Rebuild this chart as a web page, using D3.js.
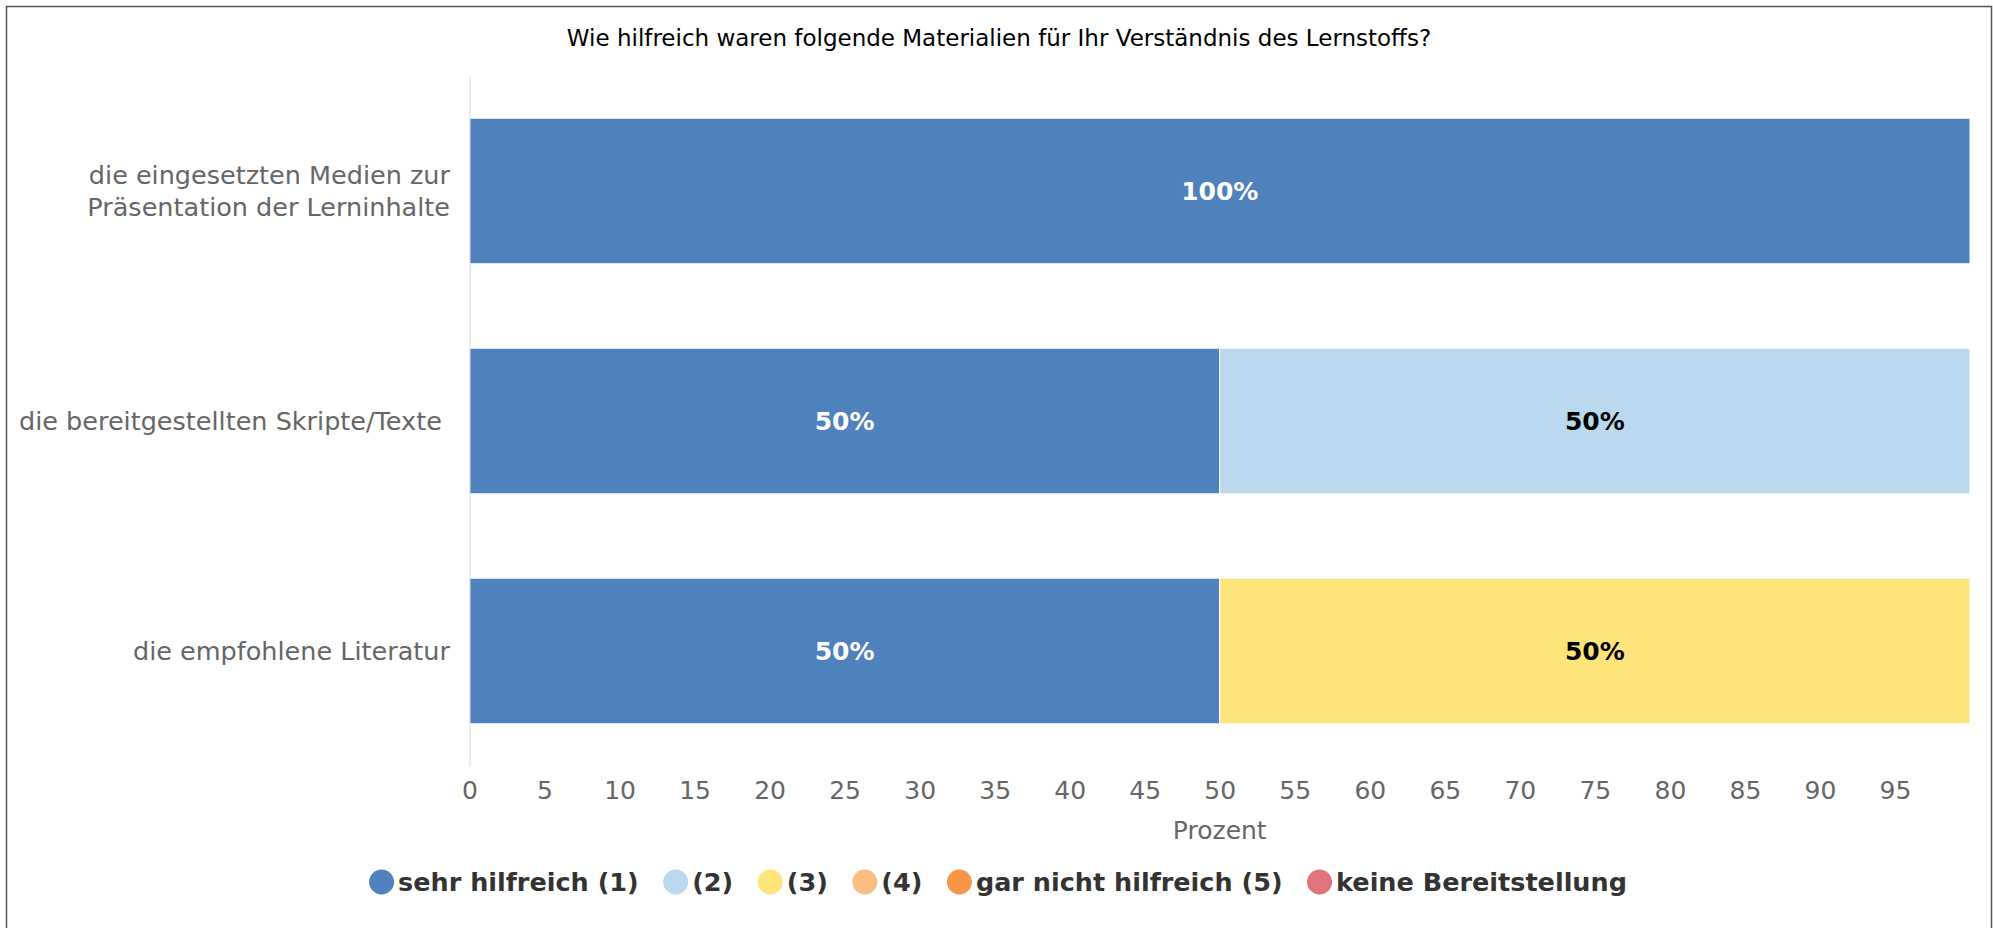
<!DOCTYPE html>
<html>
<head>
<meta charset="utf-8">
<script src="https://cdn.jsdelivr.net/npm/d3@7"></script>
<style>
  body { margin: 0; background: #fff; }
  text { font-family: "DejaVu Sans", sans-serif; }
</style>
</head>
<body>
<div id="chart"></div>
<script>
// chart data
var title = "Wie hilfreich waren folgende Materialien für Ihr Verständnis des Lernstoffs?";
var categories = ["die eingesetzten Medien zur\nPräsentation der Lerninhalte", "die bereitgestellten Skripte/Texte ", "die empfohlene Literatur"];
var seriesNames = ["sehr hilfreich (1)", "(2)", "(3)", "(4)", "gar nicht hilfreich (5)", "keine Bereitstellung"];
var seriesColors = ["#4f81bc", "#bbd9ee", "#fee57b", "#fdbf80", "#f79646", "#e0737c"];
var labelColors = ["#fff", "#000", "#000", "#000", "#000", "#fff"];
var sehrHilfreich = [100, 50, 50];
var stufe2 = [0, 50, 0];
var stufe3 = [0, 0, 50];
var stufe4 = [0, 0, 0];
var garNicht = [0, 0, 0];
var keine = [0, 0, 0];
var xTicks = [0, 5, 10, 15, 20, 25, 30, 35, 40, 45, 50, 55, 60, 65, 70, 75, 80, 85, 90, 95];
var xTitle = "Prozent";

var width = 1993, height = 928;

var svg = d3.select('#chart')
  .append('svg')
  .attr('width', width)
  .attr('height', height);

// frame round the chart
svg.append('rect')
  .attr('x', 6.5).attr('y', 6.5)
  .attr('width', 1985).attr('height', 940)
  .attr('fill', '#fff')
  .attr('stroke', '#555')
  .attr('stroke-width', 1.5);

// build table rows for d3.stack
var allSeries = [sehrHilfreich, stufe2, stufe3, stufe4, garNicht, keine];
var rows = categories.map(function (c, i) {
  var r = { cat: c };
  seriesNames.forEach(function (s, j) { r[s] = allSeries[j][i]; });
  return r;
});
var stacked = d3.stack().keys(seriesNames)(rows);

var x = d3.scaleLinear().domain([0, 100]).range([469.5, 1970]);
var y = d3.scaleBand().domain(categories).range([76, 766])
  .paddingInner(0.367).paddingOuter(0.1835);

// title
svg.append('text')
  .attr('x', 999).attr('y', 38)
  .attr('text-anchor', 'middle')
  .attr('dominant-baseline', 'central')
  .style('font-size', '23px')
  .style('fill', '#000')
  .text(title);

// bars
var layer = svg.selectAll('g.layer')
  .data(stacked)
  .enter()
  .append('g')
  .attr('class', 'layer')
  .attr('fill', function (d, i) { return seriesColors[i]; });

layer.selectAll('rect')
  .data(function (d) { return d; })
  .enter()
  .append('rect')
  .filter(function (d) { return d[1] - d[0] > 0; })
  .attr('x', function (d) { return x(d[0]); })
  .attr('y', function (d) { return y(d.data.cat); })
  .attr('width', function (d) { return x(d[1]) - x(d[0]); })
  .attr('height', y.bandwidth())
  .attr('stroke', '#fff')
  .attr('stroke-width', 1);

// value labels
stacked.forEach(function (s, i) {
  svg.selectAll('text.val' + i)
    .data(s.filter(function (d) { return d[1] - d[0] > 0; }))
    .enter()
    .append('text')
    .attr('class', 'val' + i)
    .attr('x', function (d) { return x((d[0] + d[1]) / 2); })
    .attr('y', function (d) { return y(d.data.cat) + y.bandwidth() / 2; })
    .attr('text-anchor', 'middle')
    .attr('dominant-baseline', 'central')
    .style('font-size', '25px')
    .style('font-weight', 'bold')
    .style('fill', labelColors[i])
    .text(function (d) { return Math.round(d[1] - d[0]) + '%'; });
});

// y axis line and category labels
var yAxis = svg.append('g')
  .attr('transform', 'translate(' + x(0) + ',0)')
  .call(d3.axisLeft(y).tickSize(0).tickPadding(19).tickFormat(''));
yAxis.select('.domain').attr('stroke', '#d9d9d9').attr('stroke-width', 1);

yAxis.selectAll('.tick').each(function (c) {
  var lines = c.split('\n');
  var t = d3.select(this).append('text')
    .attr('text-anchor', 'end')
    .attr('xml:space', 'preserve')
    .style('font-size', '25.5px')
    .style('fill', '#666');
  lines.forEach(function (l, k) {
    t.append('tspan')
      .attr('x', -19.5)
      .attr('y', (k - (lines.length - 1) / 2) * 31.5)
      .attr('dy', '0.35em')
      .text(l);
  });
});

// x axis tick labels
var xAxis = svg.append('g')
  .attr('transform', 'translate(0,766)')
  .call(d3.axisBottom(x).tickValues(xTicks).tickSize(0).tickPadding(15));
xAxis.select('.domain').remove();
xAxis.selectAll('text')
  .style('font-family', '"DejaVu Sans", sans-serif')
  .style('font-size', '25px')
  .style('fill', '#666')
  .attr('dy', null)
  .attr('dominant-baseline', 'central')
  .attr('y', 24.5);

svg.append('text')
  .attr('x', x(50)).attr('y', 830)
  .attr('text-anchor', 'middle')
  .attr('dominant-baseline', 'central')
  .style('font-size', '25px')
  .style('fill', '#666')
  .text(xTitle);

// legend, items laid out one after another and centred
var legend = svg.append('g');
var items = legend.selectAll('g')
  .data(seriesNames)
  .enter()
  .append('g');
items.append('circle')
  .attr('r', 12.5)
  .attr('fill', function (d, i) { return seriesColors[i]; });
items.append('text')
  .attr('x', 16.5)
  .attr('dominant-baseline', 'central')
  .style('font-size', '25.5px')
  .style('font-weight', 'bold')
  .style('fill', '#333')
  .text(function (d) { return d; });

var pos = 0, offsets = [];
items.each(function () {
  offsets.push(pos);
  pos += 16.5 + d3.select(this).select('text').node().getComputedTextLength() + 37;
});
var total = pos - 37 + 12.5;
var start = 998 - total / 2 + 12.5;
items.attr('transform', function (d, i) { return 'translate(' + (start + offsets[i]) + ',882)'; });
</script>
</body>
</html>
